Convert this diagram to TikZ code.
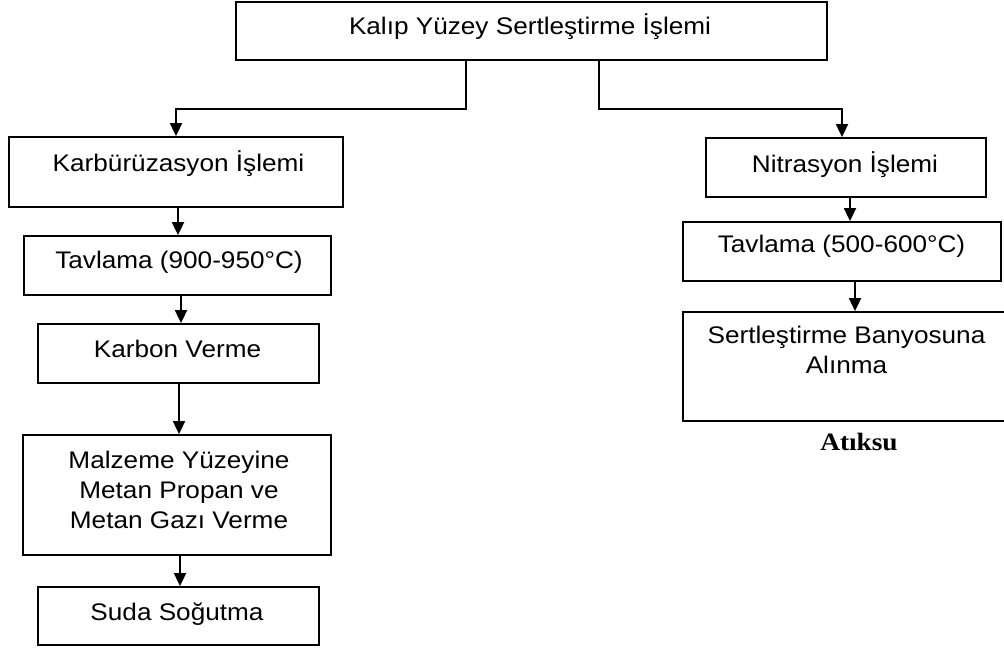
\documentclass[tikz,border=0pt]{standalone}
\usepackage{fontspec}
\setmainfont{Liberation Sans}[FakeStretch=1.09]
\newfontfamily\notefont{Liberation Serif}[FakeStretch=1.09]
\usetikzlibrary{arrows.meta}

\tikzset{
  box/.style={draw, line width=1.8pt, inner sep=0pt},
  lbl/.style={anchor=base, inner sep=0pt, align=center,
              font=\fontsize{24}{30}\selectfont},
  arr/.style={line width=1.8pt, -{Triangle[width=12pt,length=13pt]}},
}

\begin{document}
\begin{tikzpicture}[x=1pt,y=-1pt]
  \fill[white] (0,0) rectangle (1004,649);
  \clip (0,0) rectangle (1004,649);

  % frames
  \node[box, minimum width=591pt, minimum height=58pt]  (top)   at (531.5,31)  {};
  \node[box, minimum width=334pt, minimum height=70pt]  (kar)   at (176,172)   {};
  \node[box, minimum width=307pt, minimum height=59pt]  (tavA)  at (177.5,265.5) {};
  \node[box, minimum width=281pt, minimum height=59pt]  (karb)  at (178.5,353.5) {};
  \node[box, minimum width=308pt, minimum height=120pt] (malz)  at (177,495)   {};
  \node[box, minimum width=281pt, minimum height=58pt]  (suda)  at (178.5,616) {};
  \node[box, minimum width=280pt, minimum height=59pt]  (nit)   at (846,167.5) {};
  \node[box, minimum width=318pt, minimum height=59pt]  (tavB)  at (842,251.5) {};
  \node[box, minimum width=327pt, minimum height=109pt] (sert)  at (846.5,366.5) {};

  % texts (multi-line ones are placed by the baseline of their last line)
  \node[lbl] (topT)  at (530,34)    {Kalıp Yüzey Sertleştirme İşlemi};
  \node[lbl] (karT)  at (178.5,171) {Karbürüzasyon İşlemi};
  \node[lbl] (tavAT) at (179,268)   {Tavlama (900-950°C)};
  \node[lbl] (karbT) at (177.5,357) {Karbon Verme};
  \node[lbl] (malzT) at (179,528)   {Malzeme Yüzeyine\\Metan Propan ve\\Metan Gazı Verme};
  \node[lbl] (sudaT) at (177,620)   {Suda Soğutma};
  \node[lbl] (nitT)  at (845,172)   {Nitrasyon İşlemi};
  \node[lbl] (tavBT) at (841.5,252) {Tavlama (500-600°C)};
  \node[lbl] (sertT) at (846.5,373) {Sertleştirme Banyosuna\\Alınma};
  \node[anchor=base, inner sep=0pt, font=\notefont\bfseries\fontsize{25}{30}\selectfont]
       (atik) at (859,450) {Atıksu};

  % branches from the top frame
  \draw[arr] ([xshift=-65.5pt]top.south) -- ++(0,48) -| (kar.north);
  \draw[arr] ([xshift=67.5pt]top.south) -- ++(0,48) -| ([xshift=-4pt]nit.north);

  % left chain
  \draw[arr] ([xshift=2pt]kar.south)    -- ([xshift=2pt]kar.south |- tavA.north);
  \draw[arr] ([xshift=3.5pt]tavA.south) -- ([xshift=3.5pt]tavA.south |- karb.north);
  \draw[arr] ([xshift=0.5pt]karb.south) -- ([xshift=0.5pt]karb.south |- malz.north);
  \draw[arr] ([xshift=3pt]malz.south)   -- ([xshift=3pt]malz.south |- suda.north);

  % right chain
  \draw[arr] ([xshift=4pt]nit.south)   -- ([xshift=4pt]nit.south |- tavB.north);
  \draw[arr] ([xshift=13pt]tavB.south) -- ([xshift=13pt]tavB.south |- sert.north);
\end{tikzpicture}
\end{document}
